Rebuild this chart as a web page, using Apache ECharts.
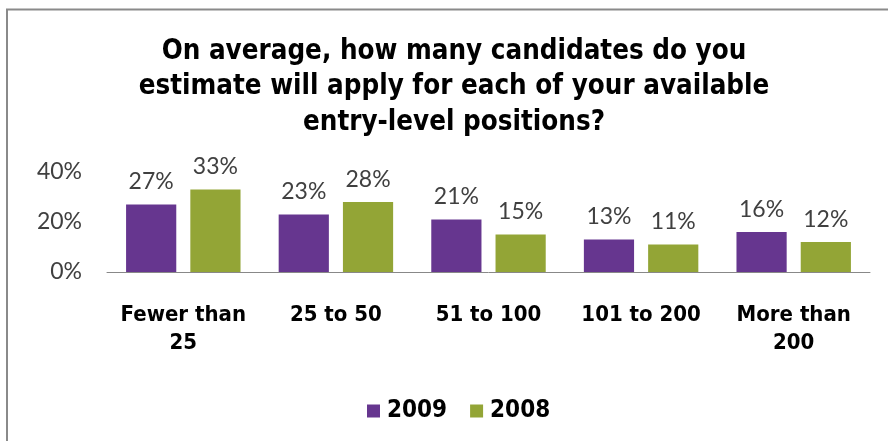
<!DOCTYPE html>
<html>
<head>
<meta charset="utf-8">
<style>
  html, body { margin: 0; padding: 0; background: #ffffff; }
  #chart { width: 888px; height: 441px; }
</style>
<script src="https://cdn.jsdelivr.net/npm/echarts@6/dist/echarts.min.js"></script>
</head>
<body>
<div id="chart"></div>
<script>
// Applicant-volume buckets and survey shares per year (percent)
const categories = ['Fewer than\n25', '25 to 50', '51 to 100', '101 to 200', 'More than\n200'];
const values2009 = [27, 23, 21, 13, 16];
const values2008 = [33, 28, 15, 11, 12];
const seriesNames = ['2009', '2008'];
const yTicks = { min: 0, max: 40, interval: 20 };

const titleText = 'On average, how many candidates do you\nestimate will apply for each of your available\nentry-level positions?';

const heavyFont = '"Liberation Sans Narrow", "DejaVu Sans Condensed", "Liberation Sans", sans-serif';
const bodyFont = 'Lato, "Open Sans", "Liberation Sans", sans-serif';
const purple = '#66368F';
const green = '#93A536';

const chart = echarts.init(document.getElementById('chart'), null, { renderer: 'canvas' });

const labelStyle = {
  show: true,
  position: 'top',
  distance: 11,
  formatter: '{c}%',
  color: '#404040',
  fontFamily: bodyFont,
  fontSize: 23
};

chart.setOption({
  backgroundColor: '#ffffff',
  animation: false,
  title: {
    text: titleText,
    left: 449,
    textAlign: 'center',
    top: 29,
    textStyle: {
      fontFamily: heavyFont,
      fontWeight: 'bold',
      fontSize: 27.5,
      lineHeight: 35.5,
      color: '#000000'
    }
  },
  legend: {
    data: seriesNames,
    bottom: 13,
    left: 362,
    itemWidth: 13,
    itemHeight: 13,
    itemGap: 23,
    icon: 'rect',
    textStyle: {
      fontFamily: heavyFont,
      fontWeight: 'bold',
      fontSize: 24,
      color: '#000000',
      padding: [0, 0, 0, 2]
    }
  },
  grid: {
    left: 107,
    right: 18,
    top: 172,
    bottom: 169,
    containLabel: false
  },
  xAxis: {
    type: 'category',
    data: categories,
    axisTick: { show: false },
    axisLine: { lineStyle: { color: '#888888', width: 1 } },
    axisLabel: {
      margin: 29,
      interval: 0,
      fontFamily: heavyFont,
      fontWeight: 'bold',
      fontSize: 22,
      lineHeight: 28,
      color: '#000000'
    }
  },
  yAxis: {
    type: 'value',
    min: yTicks.min,
    max: yTicks.max,
    interval: yTicks.interval,
    splitLine: { show: false },
    axisLine: { show: false },
    axisTick: { show: false },
    axisLabel: {
      formatter: '{value}%',
      margin: 25,
      fontFamily: bodyFont,
      fontSize: 23,
      color: '#404040'
    }
  },
  series: [
    {
      name: seriesNames[0],
      type: 'bar',
      data: values2009,
      itemStyle: { color: purple },
      barGap: '28%',
      barCategoryGap: '25%',
      label: labelStyle
    },
    {
      name: seriesNames[1],
      type: 'bar',
      data: values2008,
      itemStyle: { color: green },
      barGap: '28%',
      barCategoryGap: '25%',
      label: labelStyle
    }
  ],
  graphic: [
    {
      type: 'polyline',
      shape: { points: [[7, 441], [7, 9.5], [888, 9.5]] },
      style: { stroke: '#8a8a8a', lineWidth: 2, fill: null },
      silent: true
    }
  ]
});
</script>
</body>
</html>
